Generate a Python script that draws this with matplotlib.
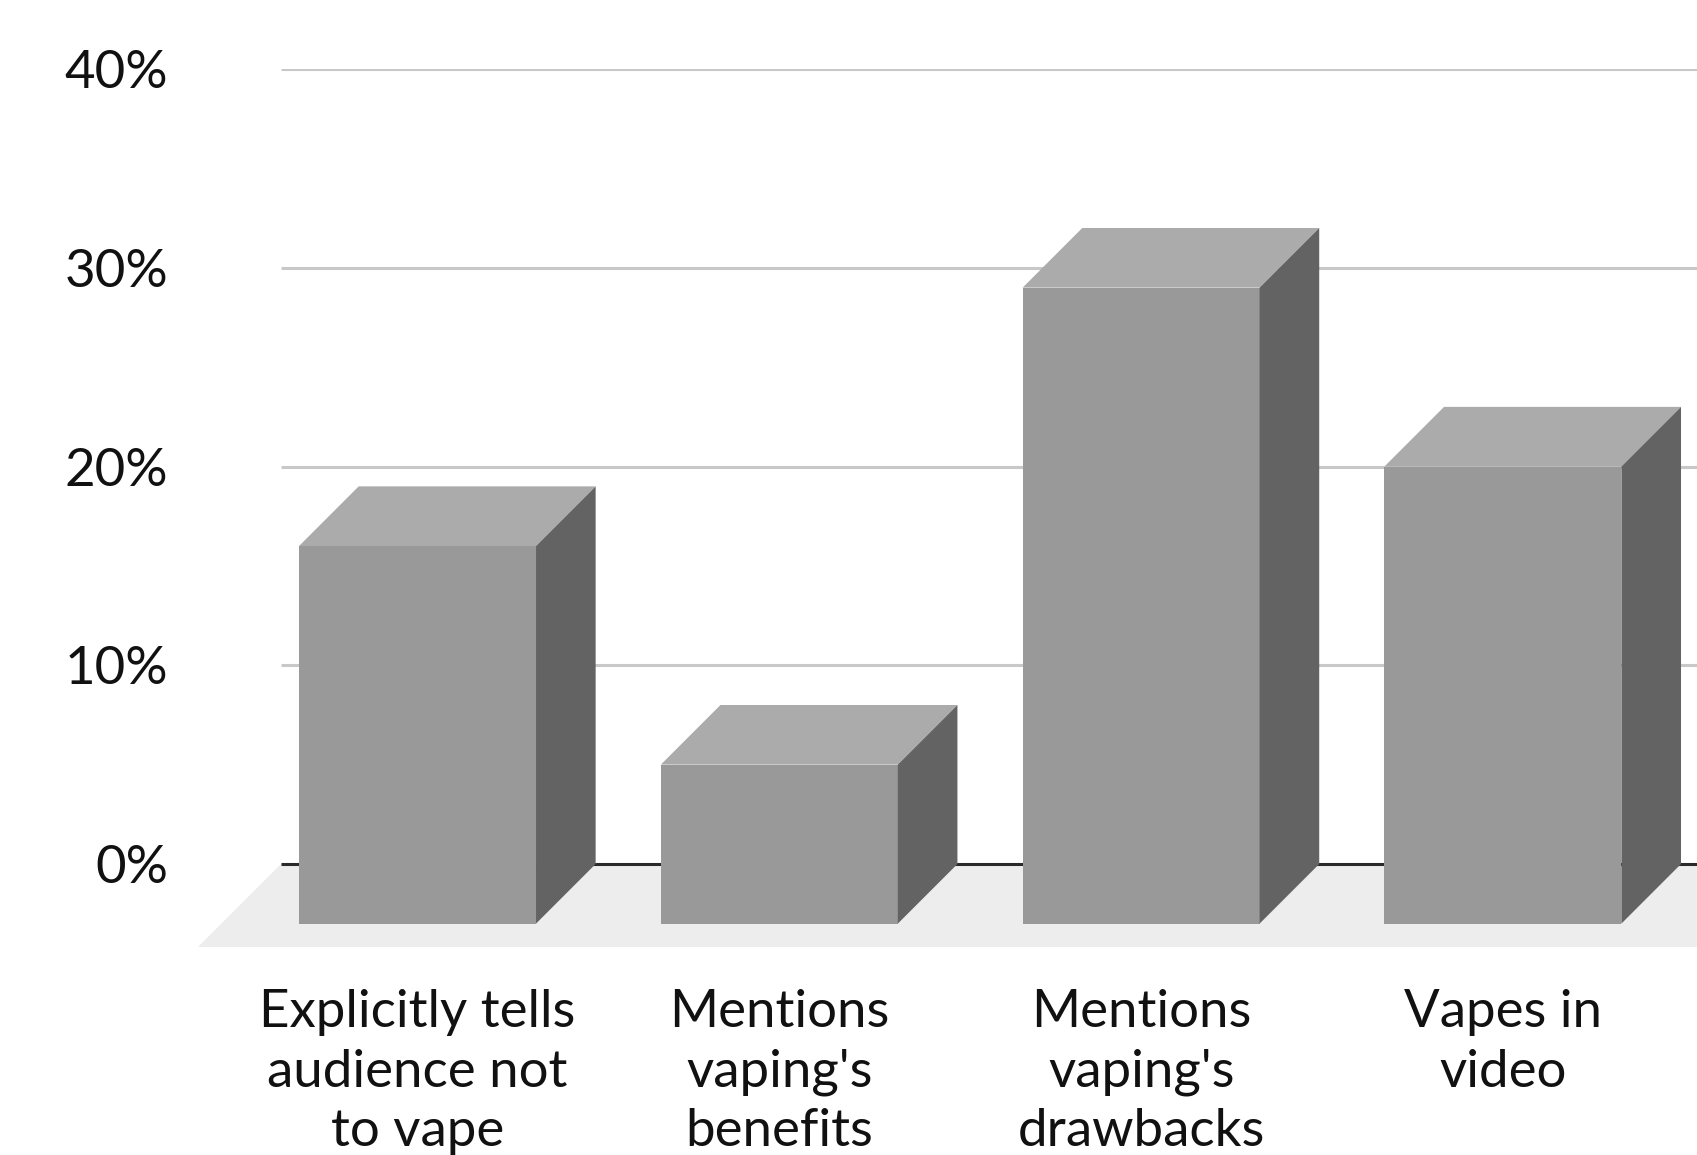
import numpy as np
import matplotlib
matplotlib.use("Agg")
import matplotlib.pyplot as plt
from matplotlib.patches import Polygon

# share of videos, percent
categories = ["Explicitly tells\naudience not\nto vape",
              "Mentions\nvaping's\nbenefits",
              "Mentions\nvaping's\ndrawbacks",
              "Vapes in\nvideo"]
values = [19, 8, 32, 23]
yticks = [0, 10, 20, 30, 40]
ytick_labels = ["0%", "10%", "20%", "30%", "40%"]

plt.rcParams['font.family'] = ['Lato', 'DejaVu Sans']

W, H = 1697, 1155
fig = plt.figure(figsize=(W / 100, H / 100), dpi=100)
# axes box in pixels: left 198, right 1697, top 69, bottom 947
ax = fig.add_axes([198 / W, (H - 947) / H, (1697 - 198) / W, (947 - 69) / H])

xlo, xhi = -0.6068, 3.5365
ylo, yhi = -4.176, 40
ax.set_xlim(xlo, xhi)
ax.set_ylim(ylo, yhi)

face = "#999999"
top = "#ababab"
side = "#636363"
floor_c = "#ededed"

w = 0.655        # bar width in category units
d = 3.0          # depth of the 3d effect, in % units
dx = d * (878 / 44.176) / 361.8   # same depth in category units
grid_x0 = -0.3773

# floor slab
floor = Polygon([(xlo, ylo), (xhi + 1, ylo), (xhi + 1, 0), (grid_x0, 0)],
                closed=True, facecolor=floor_c, edgecolor="none", zorder=0)
ax.add_patch(floor)

# gridlines on the back wall
for t in yticks[1:]:
    ax.hlines(t, grid_x0, xhi, color="#c8c8c8", lw=2.2, zorder=1)
ax.hlines(0, grid_x0, xhi, color="#2a2a2a", lw=2.2, zorder=1)

x = np.arange(len(values))
ax.bar(x, values, width=w, bottom=-d, color=face, linewidth=0, zorder=3)
for xi, v in zip(x, values):
    l, r = xi - w / 2, xi + w / 2
    ax.add_patch(Polygon([(l, v - d), (r, v - d), (r + dx, v), (l + dx, v)],
                         closed=True, facecolor=top, edgecolor="none", zorder=3))
    ax.add_patch(Polygon([(r, -d), (r + dx, 0), (r + dx, v), (r, v - d)],
                         closed=True, facecolor=side, edgecolor="none", zorder=3))

ax.set_yticks(yticks)
ax.set_yticklabels(ytick_labels, fontsize=38, color="#111111")
ax.set_xticks(x)
ax.set_xticklabels(categories, fontsize=38, color="#111111", linespacing=1.32)
ax.tick_params(axis="y", length=0, pad=21.6)
ax.tick_params(axis="x", length=0, pad=30.5)
for s in ax.spines.values():
    s.set_visible(False)
ax.set_facecolor("none")

fig.savefig("out.png", dpi=100)
